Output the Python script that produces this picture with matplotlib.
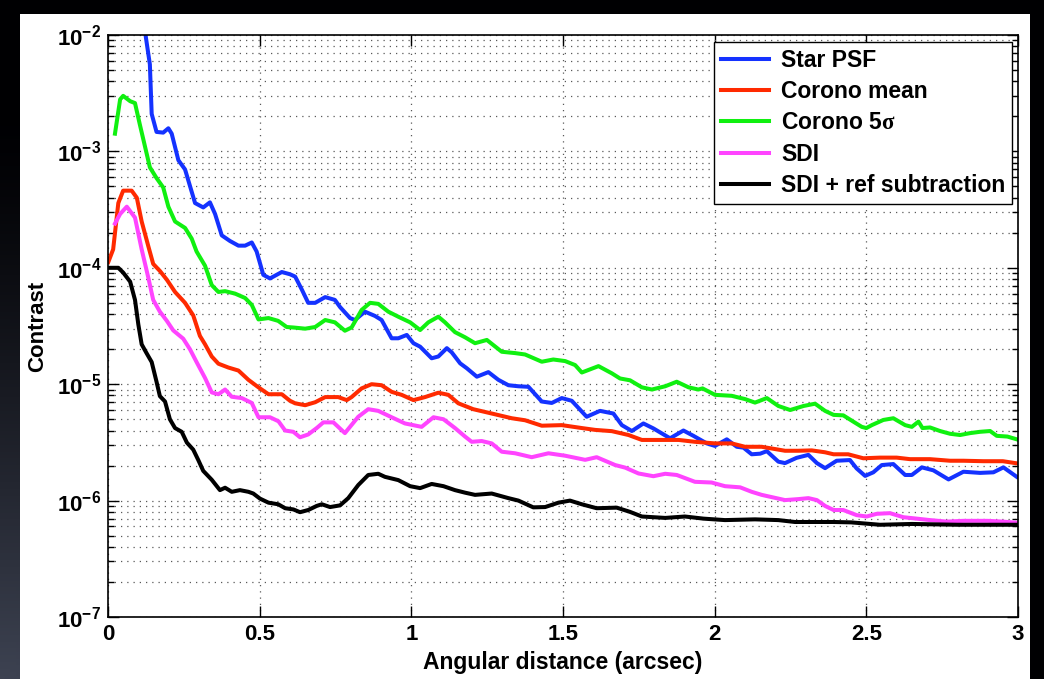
import numpy as np
import matplotlib
matplotlib.use("Agg")
import matplotlib.pyplot as plt
from matplotlib.ticker import FixedLocator, FuncFormatter, LogLocator, NullLocator
from matplotlib.patches import Rectangle

plt.rcParams['font.family'] = ['Liberation Sans', 'DejaVu Sans']
plt.rcParams['font.weight'] = 'bold'
plt.rcParams['mathtext.fontset'] = 'custom'
plt.rcParams['mathtext.bf'] = 'Liberation Sans:bold'
plt.rcParams['mathtext.rm'] = 'Liberation Serif'
plt.rcParams['mathtext.it'] = 'Liberation Serif:italic'

# ---------------- data ----------------
star_x = [0.118, 0.125, 0.138, 0.144, 0.160, 0.182, 0.199, 0.210, 0.232, 0.254, 0.287, 0.314, 0.336,
          0.353, 0.375, 0.402, 0.430, 0.452, 0.474, 0.490, 0.512, 0.534, 0.573, 0.600, 0.617, 0.639,
          0.660, 0.683, 0.716, 0.748, 0.765, 0.798, 0.814, 0.847, 0.880, 0.902, 0.935, 0.957, 0.985,
          1.007, 1.029, 1.067, 1.089, 1.117, 1.133, 1.161, 1.183, 1.216, 1.254, 1.287, 1.320, 1.353,
          1.386, 1.430, 1.463, 1.496, 1.529, 1.578, 1.622, 1.666, 1.694, 1.727, 1.765, 1.798, 1.853,
          1.897, 1.930, 1.974, 2.001, 2.040, 2.073, 2.095, 2.122, 2.150, 2.172, 2.210, 2.232, 2.270,
          2.309, 2.337, 2.364, 2.402, 2.446, 2.468, 2.496, 2.523, 2.551, 2.589, 2.628, 2.650, 2.683,
          2.721, 2.771, 2.820, 2.875, 2.919, 2.952, 2.996]
star_y = [1.3e-2, 9.5e-3, 5.6e-3, 2.1e-3, 1.47e-3, 1.45e-3, 1.58e-3, 1.42e-3, 8.4e-4, 7.0e-4, 3.6e-4,
          3.3e-4, 3.65e-4, 2.9e-4, 1.9e-4, 1.7e-4, 1.55e-4, 1.55e-4, 1.65e-4, 1.38e-4, 8.7e-5, 8.1e-5,
          9.2e-5, 8.8e-5, 8.4e-5, 6.5e-5, 5.0e-5, 5.0e-5, 5.6e-5, 5.3e-5, 4.6e-5, 3.7e-5, 3.56e-5,
          4.2e-5, 3.86e-5, 3.56e-5, 2.48e-5, 2.48e-5, 2.65e-5, 2.25e-5, 2.1e-5, 1.67e-5, 1.73e-5,
          2.04e-5, 1.88e-5, 1.51e-5, 1.37e-5, 1.16e-5, 1.27e-5, 1.09e-5, 9.8e-6, 9.6e-6, 9.5e-6,
          7.1e-6, 6.9e-6, 7.6e-6, 7.2e-6, 5.25e-6, 5.9e-6, 5.6e-6, 4.45e-6, 3.96e-6, 4.6e-6, 4.17e-6,
          3.43e-6, 4.0e-6, 3.6e-6, 3.1e-6, 2.95e-6, 3.36e-6, 2.9e-6, 2.85e-6, 2.5e-6, 2.53e-6,
          2.66e-6, 2.16e-6, 2.1e-6, 2.33e-6, 2.47e-6, 2.1e-6, 1.9e-6, 2.2e-6, 2.23e-6, 1.89e-6,
          1.63e-6, 1.75e-6, 2.02e-6, 2.06e-6, 1.66e-6, 1.66e-6, 1.93e-6, 1.82e-6, 1.52e-6, 1.77e-6,
          1.73e-6, 1.75e-6, 1.93e-6, 1.6e-6]

mean_x = [0.001, 0.017, 0.034, 0.050, 0.078, 0.095, 0.111, 0.133, 0.149, 0.171, 0.194, 0.221, 0.254,
          0.281, 0.303, 0.320, 0.342, 0.364, 0.397, 0.430, 0.463, 0.496, 0.529, 0.573, 0.600, 0.617,
          0.650, 0.683, 0.716, 0.759, 0.787, 0.803, 0.836, 0.869, 0.902, 0.935, 0.968, 1.007, 1.045,
          1.089, 1.122, 1.155, 1.204, 1.265, 1.331, 1.375, 1.430, 1.496, 1.562, 1.606, 1.661, 1.716,
          1.760, 1.881, 1.935, 2.001, 2.056, 2.100, 2.155, 2.232, 2.276, 2.320, 2.364, 2.392, 2.440,
          2.490, 2.545, 2.600, 2.644, 2.710, 2.776, 2.820, 2.886, 2.950, 2.996]
mean_y = [1.12e-4, 1.44e-4, 3.6e-4, 4.6e-4, 4.6e-4, 4.0e-4, 2.5e-4, 1.53e-4, 1.08e-4, 9.4e-5, 7.9e-5,
          6.2e-5, 5.0e-5, 3.9e-5, 2.6e-5, 2.2e-5, 1.73e-5, 1.5e-5, 1.39e-5, 1.31e-5, 1.09e-5, 9.4e-6,
          8.2e-6, 8.2e-6, 7.2e-6, 6.85e-6, 6.6e-6, 7.0e-6, 7.75e-6, 7.75e-6, 7.3e-6, 7.75e-6, 9.2e-6,
          1.0e-5, 9.8e-6, 8.6e-6, 8.1e-6, 7.3e-6, 7.75e-6, 8.45e-6, 8.1e-6, 6.85e-6, 6.1e-6, 5.6e-6,
          5.1e-6, 4.9e-6, 4.4e-6, 4.45e-6, 4.2e-6, 4.05e-6, 3.95e-6, 3.66e-6, 3.32e-6, 3.32e-6, 3.2e-6,
          3.1e-6, 3.1e-6, 2.9e-6, 2.9e-6, 2.68e-6, 2.68e-6, 2.7e-6, 2.6e-6, 2.5e-6, 2.5e-6, 2.31e-6,
          2.34e-6, 2.34e-6, 2.27e-6, 2.27e-6, 2.2e-6, 2.2e-6, 2.18e-6, 2.18e-6, 2.09e-6]

sig5_x = [0.023, 0.040, 0.050, 0.073, 0.089, 0.105, 0.122, 0.138, 0.160, 0.182, 0.199, 0.221, 0.254,
          0.276, 0.292, 0.320, 0.342, 0.364, 0.386, 0.419, 0.452, 0.474, 0.496, 0.529, 0.561, 0.589,
          0.611, 0.650, 0.683, 0.716, 0.748, 0.781, 0.803, 0.836, 0.864, 0.891, 0.924, 0.957, 0.996,
          1.029, 1.056, 1.089, 1.111, 1.144, 1.177, 1.210, 1.249, 1.298, 1.342, 1.375, 1.430, 1.468,
          1.507, 1.540, 1.562, 1.617, 1.661, 1.688, 1.721, 1.760, 1.793, 1.837, 1.875, 1.914, 1.946,
          1.960, 2.001, 2.056, 2.100, 2.133, 2.172, 2.210, 2.249, 2.293, 2.331, 2.364, 2.392, 2.424,
          2.457, 2.485, 2.500, 2.518, 2.556, 2.589, 2.628, 2.650, 2.672, 2.685, 2.710, 2.743, 2.776,
          2.809, 2.842, 2.875, 2.908, 2.930, 2.965, 2.996]
sig5_y = [1.42e-3, 2.8e-3, 3.0e-3, 2.7e-3, 2.6e-3, 1.7e-3, 1.1e-3, 7.3e-4, 5.9e-4, 4.9e-4, 3.35e-4,
          2.5e-4, 2.2e-4, 1.78e-4, 1.38e-4, 1.04e-4, 7.1e-5, 6.2e-5, 6.3e-5, 6.0e-5, 5.5e-5, 4.8e-5,
          3.6e-5, 3.7e-5, 3.5e-5, 3.1e-5, 3.07e-5, 3.0e-5, 3.1e-5, 3.56e-5, 3.4e-5, 2.88e-5, 3.07e-5,
          4.34e-5, 5.0e-5, 4.9e-5, 4.2e-5, 3.8e-5, 3.4e-5, 2.92e-5, 3.4e-5, 3.8e-5, 3.4e-5, 2.8e-5,
          2.53e-5, 2.25e-5, 2.4e-5, 1.9e-5, 1.85e-5, 1.8e-5, 1.56e-5, 1.63e-5, 1.58e-5, 1.46e-5,
          1.26e-5, 1.43e-5, 1.24e-5, 1.12e-5, 1.08e-5, 9.4e-6, 9.0e-6, 9.6e-6, 1.05e-5, 9.4e-6, 9.0e-6,
          9.2e-6, 8.1e-6, 7.95e-6, 7.45e-6, 6.95e-6, 7.6e-6, 6.5e-6, 6.0e-6, 6.5e-6, 6.8e-6, 5.9e-6,
          5.45e-6, 5.4e-6, 4.77e-6, 4.3e-6, 4.2e-6, 4.45e-6, 4.93e-6, 5.1e-6, 4.45e-6, 4.3e-6, 4.77e-6,
          4.2e-6, 4.25e-6, 3.96e-6, 3.75e-6, 3.66e-6, 3.8e-6, 3.9e-6, 3.96e-6, 3.6e-6, 3.55e-6, 3.36e-6]

sdi_x = [0.023, 0.040, 0.062, 0.089, 0.111, 0.133, 0.149, 0.171, 0.194, 0.215, 0.248, 0.270, 0.292,
         0.320, 0.342, 0.364, 0.386, 0.408, 0.441, 0.474, 0.496, 0.534, 0.562, 0.584, 0.611, 0.633,
         0.660, 0.688, 0.710, 0.743, 0.781, 0.825, 0.858, 0.891, 0.935, 0.979, 1.034, 1.073, 1.106,
         1.144, 1.177, 1.199, 1.232, 1.265, 1.298, 1.342, 1.397, 1.452, 1.507, 1.573, 1.611, 1.672,
         1.705, 1.749, 1.798, 1.837, 1.875, 1.935, 1.990, 2.034, 2.084, 2.122, 2.155, 2.232, 2.276,
         2.309, 2.337, 2.364, 2.392, 2.424, 2.468, 2.501, 2.534, 2.578, 2.622, 2.666, 2.710, 2.765,
         2.820, 2.900, 2.950, 2.996]
sdi_y = [2.4e-4, 2.9e-4, 3.35e-4, 2.7e-4, 1.44e-4, 8.2e-5, 5.3e-5, 4.2e-5, 3.5e-5, 2.9e-5, 2.46e-5,
         2.0e-5, 1.55e-5, 1.13e-5, 8.5e-6, 8.2e-6, 9.0e-6, 7.8e-6, 7.6e-6, 6.9e-6, 5.2e-6, 5.2e-6,
         4.8e-6, 4.0e-6, 3.9e-6, 3.5e-6, 3.7e-6, 4.2e-6, 4.7e-6, 4.7e-6, 3.8e-6, 5.25e-6, 6.1e-6,
         5.9e-6, 5.2e-6, 4.6e-6, 4.3e-6, 5.2e-6, 5.0e-6, 4.2e-6, 3.55e-6, 3.2e-6, 3.25e-6, 3.1e-6,
         2.63e-6, 2.55e-6, 2.36e-6, 2.55e-6, 2.43e-6, 2.24e-6, 2.36e-6, 2.02e-6, 1.92e-6, 1.71e-6,
         1.62e-6, 1.7e-6, 1.66e-6, 1.45e-6, 1.43e-6, 1.33e-6, 1.3e-6, 1.19e-6, 1.12e-6, 1.01e-6,
         1.03e-6, 1.05e-6, 1.01e-6, 9.0e-7, 8.3e-7, 8.3e-7, 7.5e-7, 7.3e-7, 7.7e-7, 7.8e-7, 7.2e-7,
         7.0e-7, 6.8e-7, 6.6e-7, 6.7e-7, 6.7e-7, 6.6e-7, 6.45e-7]

ref_x = [0.007, 0.034, 0.050, 0.073, 0.089, 0.100, 0.111, 0.127, 0.144, 0.160, 0.171, 0.188, 0.204,
         0.221, 0.243, 0.260, 0.281, 0.298, 0.314, 0.342, 0.369, 0.386, 0.408, 0.435, 0.463, 0.479,
         0.501, 0.529, 0.561, 0.584, 0.611, 0.633, 0.660, 0.688, 0.705, 0.732, 0.765, 0.792, 0.825,
         0.858, 0.891, 0.913, 0.957, 0.996, 1.029, 1.067, 1.106, 1.144, 1.177, 1.210, 1.265, 1.320,
         1.353, 1.402, 1.441, 1.485, 1.523, 1.562, 1.611, 1.677, 1.721, 1.760, 1.837, 1.902, 1.963,
         2.034, 2.133, 2.210, 2.265, 2.392, 2.450, 2.545, 2.650, 2.800, 2.996]
ref_y = [1.0e-4, 1.0e-4, 9.1e-5, 7.6e-5, 5.3e-5, 3.26e-5, 2.2e-5, 1.85e-5, 1.55e-5, 1.05e-5, 7.9e-6,
         7.1e-6, 5.0e-6, 4.2e-6, 3.9e-6, 3.15e-6, 2.74e-6, 2.22e-6, 1.8e-6, 1.51e-6, 1.23e-6, 1.29e-6,
         1.19e-6, 1.23e-6, 1.19e-6, 1.15e-6, 1.04e-6, 9.6e-7, 9.3e-7, 8.6e-7, 8.4e-7, 7.95e-7, 8.3e-7,
         9.0e-7, 9.3e-7, 8.8e-7, 9.1e-7, 1.05e-6, 1.36e-6, 1.66e-6, 1.7e-6, 1.6e-6, 1.5e-6, 1.33e-6,
         1.28e-6, 1.39e-6, 1.33e-6, 1.23e-6, 1.17e-6, 1.12e-6, 1.15e-6, 1.05e-6, 1.0e-6, 8.75e-7,
         8.8e-7, 9.6e-7, 1.0e-6, 9.3e-7, 8.6e-7, 8.7e-7, 8.0e-7, 7.3e-7, 7.1e-7, 7.3e-7, 7.0e-7,
         6.8e-7, 6.9e-7, 6.8e-7, 6.55e-7, 6.55e-7, 6.5e-7, 6.2e-7, 6.3e-7, 6.2e-7, 6.2e-7]

labels = ['Star PSF', 'Corono mean', r'Corono 5$\mathrm{\sigma}$', 'SDI', 'SDI + ref subtraction']
colors = ['#1432ff', '#ff2a00', '#10f010', '#ff44ff', '#000000']
x_ticks = [0, 0.5, 1, 1.5, 2, 2.5, 3]
x_tick_labels = ['0', '0.5', '1', '1.5', '2', '2.5', '3']
y_ticks = [1e-7, 1e-6, 1e-5, 1e-4, 1e-3, 1e-2]

# ---------------- figure ----------------
W, H = 1044, 679
fig = plt.figure(figsize=(W / 100, H / 100), dpi=100)

bg = fig.add_axes([0, 0, 1, 1], zorder=-10)
bg.set_axis_off()
gx, gy = np.meshgrid(np.linspace(0, 1, 200), np.linspace(1, 0, 200))
d = np.clip(1 - np.hypot(gx * 1.0, gy * 1.2) / 1.0, 0, 1)
base = np.array([0.0, 0.0, 0.01])
light = np.array([0.24, 0.26, 0.32])
img = base + (light - base) * (d[..., None] ** 1.3)
bg.imshow(img, extent=[0, 1, 0, 1], aspect='auto')
bg.add_patch(Rectangle((20 / W, 0), (1030 - 20) / W, (H - 14) / H,
                       facecolor='white', edgecolor='none'))
bg.set_xlim(0, 1)
bg.set_ylim(0, 1)

ax = fig.add_axes([108 / W, 1 - 617 / H, (1018 - 108) / W, (617 - 35) / H])
series = [(star_x, star_y), (mean_x, mean_y), (sig5_x, sig5_y), (sdi_x, sdi_y), (ref_x, ref_y)]
for (xs, ys), lab, col in zip(series, labels, colors):
    ax.plot(xs, ys, color=col, lw=2.9, label=lab, solid_joinstyle='round')

ax.set_yscale('log')
ax.set_xlim(0, 3)
ax.set_ylim(1e-7, 1e-2)
ax.xaxis.set_major_locator(FixedLocator(x_ticks))
ax.set_xticklabels(x_tick_labels)
ax.xaxis.set_minor_locator(NullLocator())
ax.yaxis.set_major_locator(FixedLocator(y_ticks))
ax.yaxis.set_minor_locator(LogLocator(base=10, subs=np.arange(2, 10), numticks=20))
ax.yaxis.set_major_formatter(FuncFormatter(
    lambda v, p: r'$\mathbf{10^{%d}}$' % int(round(np.log10(v)))))
ax.yaxis.set_minor_formatter(FuncFormatter(lambda v, p: ''))

ax.tick_params(which='both', direction='in', top=True, right=True, labelsize=16, width=1.0)
ax.tick_params(which='major', length=8, pad=5)
ax.tick_params(which='minor', length=4)
for s in ax.spines.values():
    s.set_linewidth(1.2)

gstyle = dict(linestyle=(0, (1, 4)), color='0.35', linewidth=0.9)
ax.grid(True, which='major', axis='both', **gstyle)
ax.grid(True, which='minor', axis='y', **gstyle)
ax.set_axisbelow(True)

ax.set_xlabel('Angular distance (arcsec)', fontsize=16.5, fontweight='bold', labelpad=4)
ax.set_ylabel('Contrast', fontsize=16, fontweight='bold', labelpad=6)

leg = ax.legend(loc='upper right', bbox_to_anchor=(0.9934, 0.988), fancybox=False, framealpha=1,
                edgecolor='black', prop={'weight': 'bold', 'size': 16.5}, handlelength=2.1,
                handletextpad=0.5, labelspacing=0.36, borderpad=0.3, borderaxespad=0)
leg.get_frame().set_linewidth(1.0)

fig.savefig('out.png', dpi=100)
